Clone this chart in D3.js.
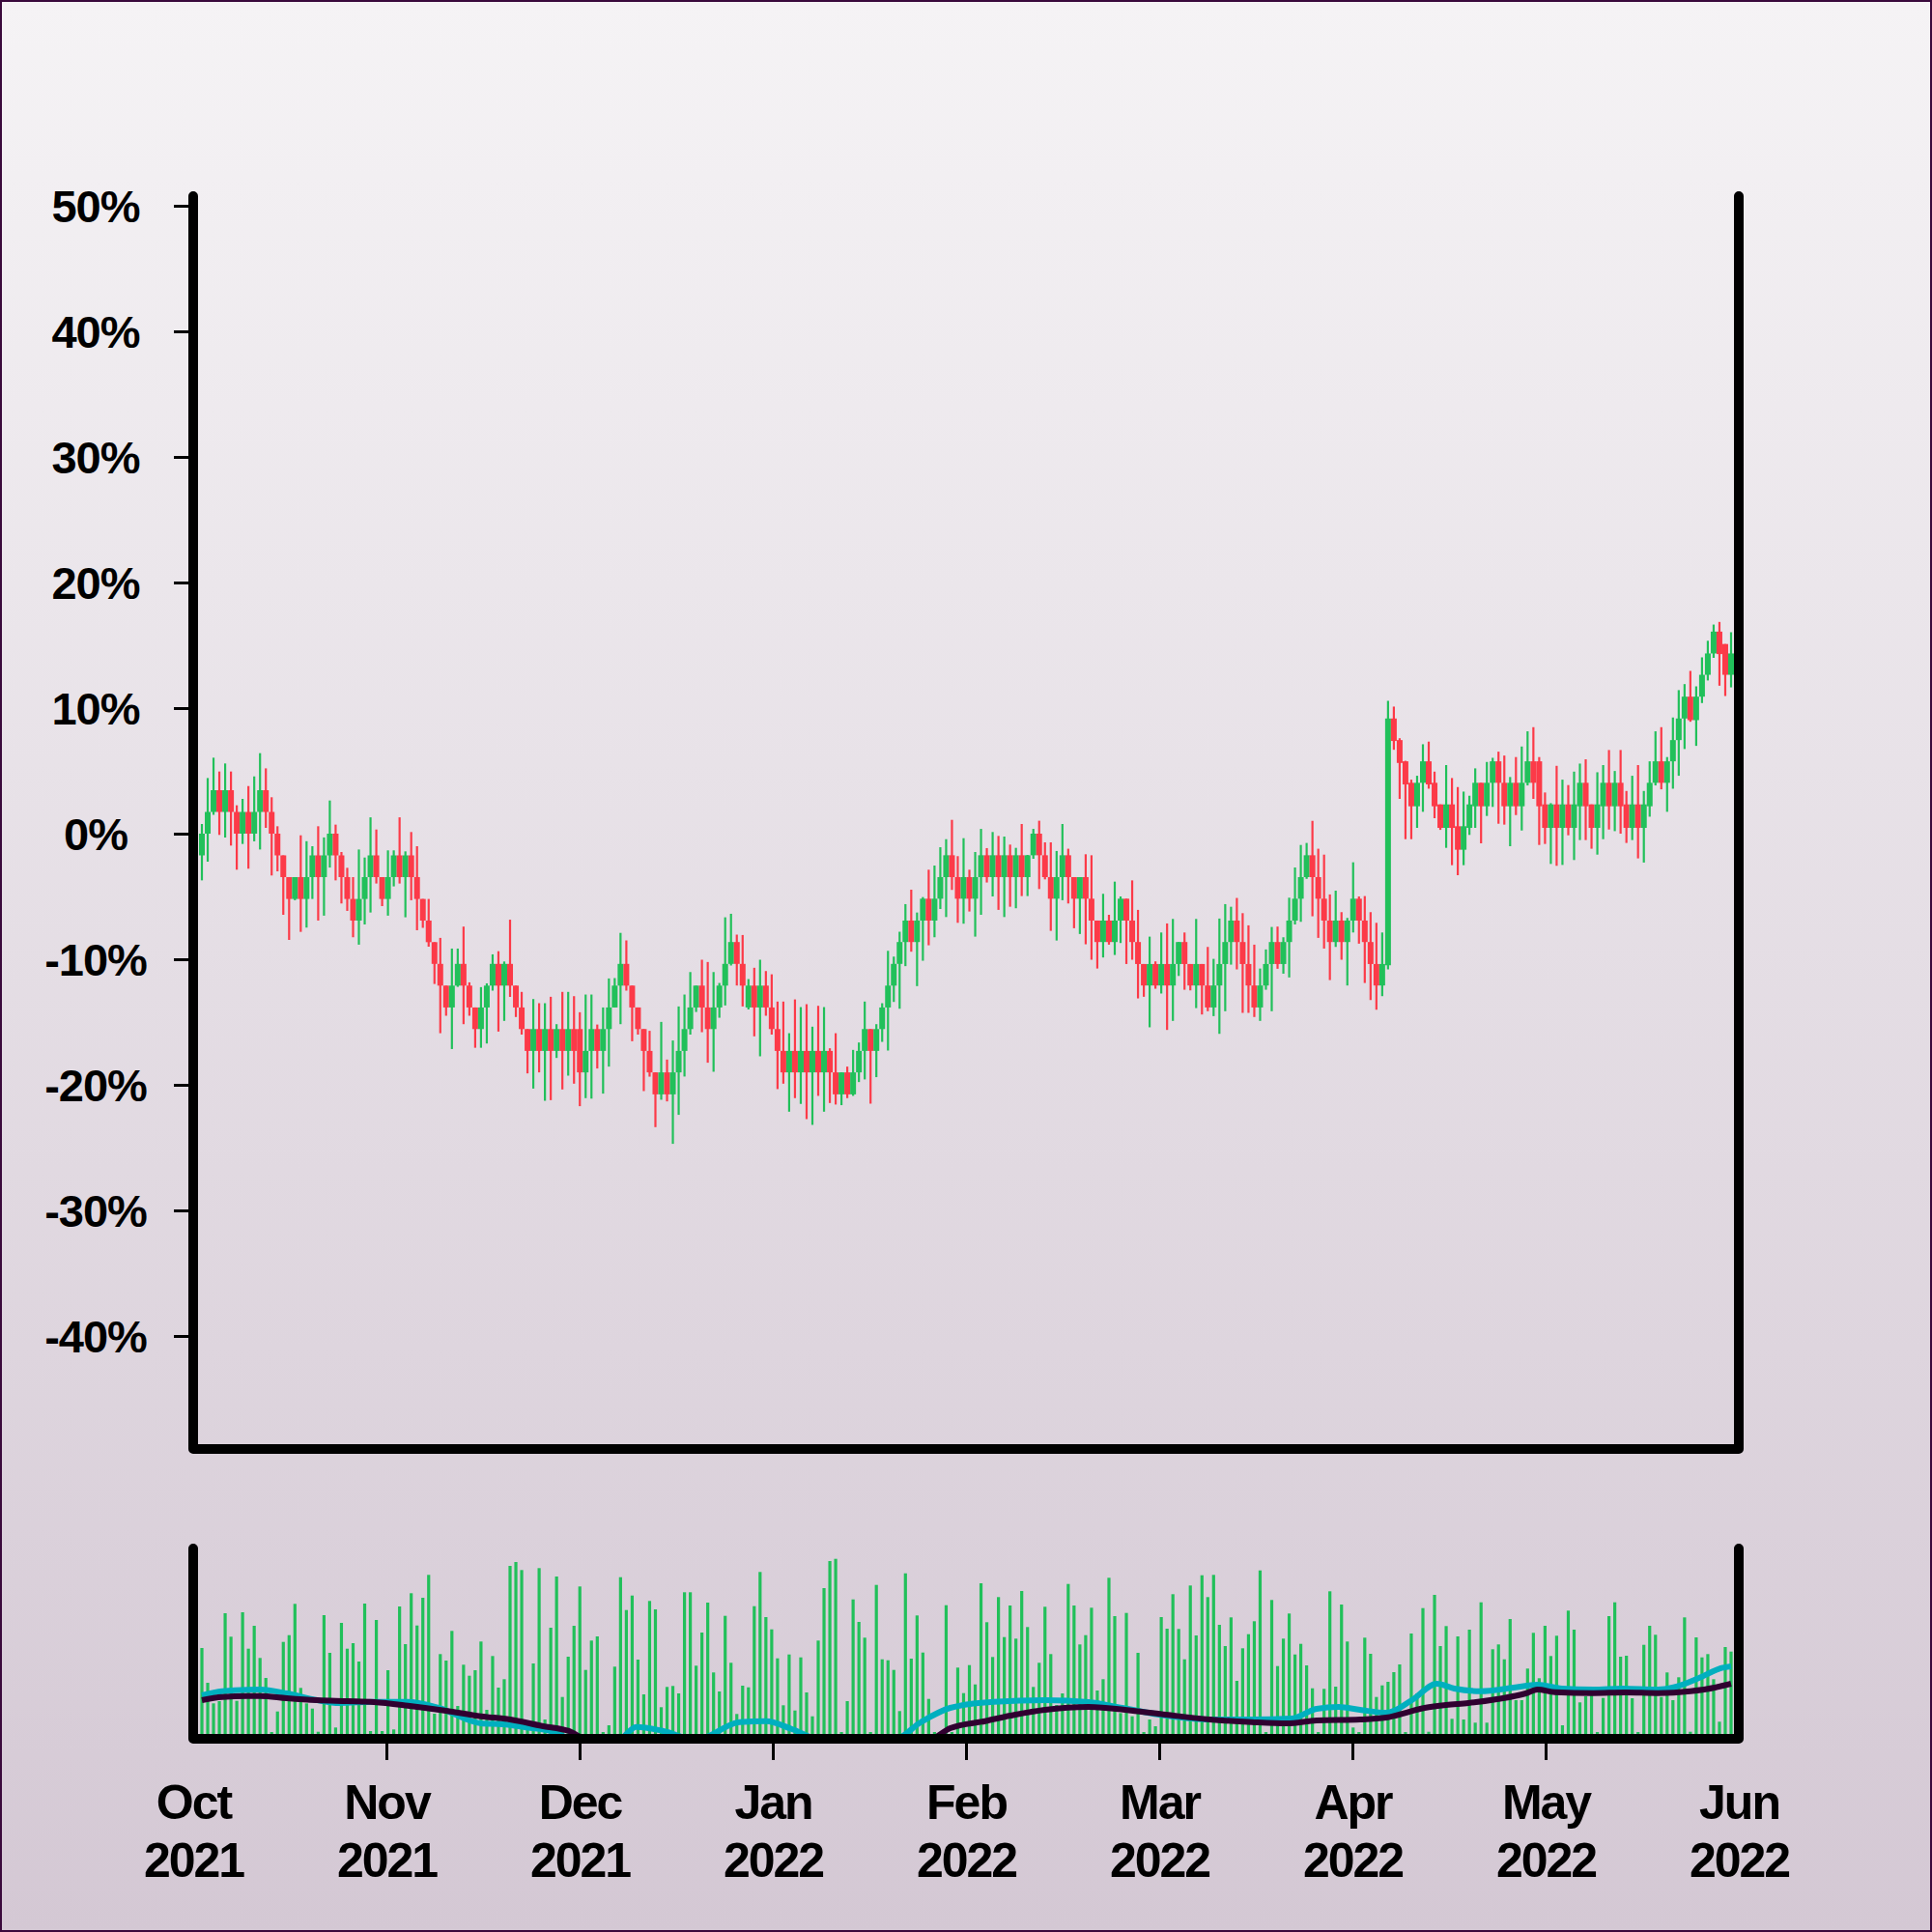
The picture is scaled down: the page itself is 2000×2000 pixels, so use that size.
<!DOCTYPE html>
<html>
<head>
<meta charset="utf-8">
<script src="https://cdn.jsdelivr.net/npm/d3@7"></script>
<style>
html,body{margin:0;padding:0;background:#fff;}
svg{display:block;}
text{font-family:"Liberation Sans",Arial,Helvetica,sans-serif;font-weight:bold;fill:#000;}
</style>
</head>
<body>
<svg id="chart" width="2000" height="2000"></svg>
<script>
// ---------- DATA ----------
const months = ["Oct 2021","Nov 2021","Dec 2021","Jan 2022","Feb 2022","Mar 2022","Apr 2022","May 2022","Jun 2022"];
const yTicks = [-40,-30,-20,-10,0,10,20,30,40,50];

// candle open / close / high / low in % change
const open = [
-1.73,0,1.73,3.46,1.73,3.46,1.73,0,1.73,0,1.73,3.46,1.73,0,-1.73,-3.46,-5.2,-3.46,-5.2,-3.46,
-1.73,-3.46,-1.73,0,-1.73,-3.46,-5.2,-6.92,-5.2,-3.46,-1.73,-3.46,-5.2,-3.46,-1.73,-3.46,-1.73,-3.46,-5.2,-6.92,
-8.64,-10.37,-12.1,-13.84,-12.1,-10.37,-12.1,-13.84,-15.56,-13.84,-12.1,-10.37,-12.1,-10.37,-12.1,-13.84,-15.56,-17.3,-15.56,-17.3,
-15.56,-17.3,-15.56,-17.3,-15.56,-15.56,-19.01,-17.3,-15.56,-17.3,-15.56,-13.84,-12.1,-10.37,-12.1,-13.84,-15.56,-17.3,-19.01,-20.76,
-19.01,-20.76,-19.01,-17.3,-15.56,-13.84,-12.1,-13.84,-15.56,-13.84,-12.1,-10.37,-8.63,-10.37,-13.84,-12.1,-13.84,-12.1,-13.84,-15.56,
-17.3,-19.01,-17.3,-19.01,-17.3,-19.01,-17.3,-19.01,-17.3,-19.01,-20.76,-19.01,-20.76,-19.01,-17.3,-15.56,-17.3,-15.56,-13.84,-12.1,
-10.37,-8.63,-6.92,-8.63,-6.92,-5.18,-6.92,-5.18,-3.46,-1.72,-3.46,-5.18,-3.46,-5.18,-3.46,-1.72,-3.46,-1.72,-3.46,-1.72,
-3.46,-1.72,-3.46,-1.72,0,-1.72,-3.46,-5.18,-3.46,-1.72,-3.46,-5.18,-3.46,-5.18,-6.92,-8.63,-6.92,-8.63,-6.92,-5.18,
-6.92,-8.63,-10.38,-12.09,-10.38,-12.09,-10.38,-12.09,-10.38,-8.63,-10.38,-12.09,-10.38,-12.09,-13.84,-12.09,-10.38,-8.63,-6.92,-8.63,
-10.38,-12.09,-13.84,-12.09,-10.38,-8.63,-10.38,-8.63,-6.92,-5.18,-3.46,-1.72,-3.46,-5.18,-6.92,-8.63,-6.92,-8.63,-6.92,-5.18,
-6.92,-8.63,-10.38,-12.09,-10.48,9.17,7.45,5.76,4.05,2.18,4.05,5.76,4.05,2.33,0.46,2.33,0.59,-1.28,0.46,2.18,
4.05,2.18,4.05,5.76,4.05,2.18,4.05,2.18,4.05,5.76,5.76,2.33,0.46,2.33,0.46,2.33,0.46,2.18,4.05,2.33,
0.46,2.18,4.05,2.18,4.05,2.33,0.46,2.33,0.46,2.18,4.05,5.76,4.05,5.76,7.45,9.17,10.91,9.04,10.91,12.65,
14.35,16.09,15.1,12.65];
const close = [
0,1.73,3.46,1.73,3.46,1.73,0,1.73,0,1.73,3.46,1.73,0,-1.73,-3.46,-5.2,-3.46,-5.2,-3.46,-1.73,
-3.46,-1.73,0,-1.73,-3.46,-5.2,-6.92,-5.2,-3.46,-1.73,-3.46,-5.2,-3.46,-1.73,-3.46,-1.73,-3.46,-5.2,-6.92,-8.64,
-10.37,-12.1,-13.84,-12.1,-10.37,-12.1,-13.84,-15.56,-13.84,-12.1,-10.37,-12.1,-10.37,-12.1,-13.84,-15.56,-17.3,-15.56,-17.3,-15.56,
-17.3,-15.56,-17.3,-15.56,-17.3,-19.01,-17.3,-15.56,-17.3,-15.56,-13.84,-12.1,-10.37,-12.1,-13.84,-15.56,-17.3,-19.01,-20.76,-19.01,
-20.76,-19.01,-17.3,-15.56,-13.84,-12.1,-13.84,-15.56,-13.84,-12.1,-10.37,-8.63,-10.37,-12.1,-12.1,-13.84,-12.1,-13.84,-15.56,-17.3,
-19.01,-17.3,-19.01,-17.3,-19.01,-17.3,-19.01,-17.3,-19.01,-20.76,-19.01,-20.76,-19.01,-17.3,-15.56,-17.3,-15.56,-13.84,-12.1,-10.37,
-8.63,-6.92,-8.63,-6.92,-5.18,-6.92,-5.18,-3.46,-1.72,-3.46,-5.18,-3.46,-5.18,-3.46,-1.72,-3.46,-1.72,-3.46,-1.72,-3.46,
-1.72,-3.46,-1.72,0,-1.72,-3.46,-5.18,-3.46,-1.72,-3.46,-5.18,-3.46,-5.18,-6.92,-8.63,-6.92,-8.63,-6.92,-5.18,-6.92,
-8.63,-10.38,-12.09,-10.38,-12.09,-10.38,-12.09,-10.38,-8.63,-10.38,-12.09,-10.38,-12.09,-13.84,-12.09,-10.38,-8.63,-6.92,-8.63,-10.38,
-12.09,-13.84,-12.09,-10.38,-8.63,-10.38,-8.63,-6.92,-5.18,-3.46,-1.72,-3.46,-5.18,-6.92,-8.63,-6.92,-8.63,-6.92,-5.18,-6.92,
-8.63,-10.38,-12.09,-10.38,9.17,7.38,5.63,3.92,2.18,4.05,5.76,3.92,2.18,0.46,2.33,0.46,-1.28,0.59,2.33,4.05,
2.18,4.05,5.76,4.05,2.18,4.05,2.18,4.05,5.76,4.05,2.18,0.46,2.33,0.46,2.33,0.46,2.33,4.05,2.18,0.46,
2.33,4.05,2.18,4.05,2.18,0.46,2.33,0.46,2.33,4.05,5.76,4.05,5.76,7.45,9.17,10.91,9.04,10.91,12.65,14.35,
16.09,14.3,12.65,14.35];
const high = [
0.77,4.43,6.05,4.95,5.59,4.95,2.26,2.77,3.79,4.56,6.41,5.2,2.9,0.59,-1.73,-3.46,-3.46,-0.13,-0.6,-1.0,
0.59,-0.3,2.64,0.72,-1.46,-2.72,-3.46,-1.26,-1.9,1.3,0.33,-3.46,-1.33,-1.33,1.3,-1.41,0.13,-1.0,-5.2,-5.2,
-8.64,-8.3,-12.1,-9.15,-9.15,-7.4,-11.84,-13.84,-12.22,-11.92,-9.61,-9.36,-10.18,-6.85,-12.1,-12.6,-15.56,-13.17,-13.5,-13.5,
-12.99,-15.17,-12.6,-12.6,-12.94,-14.22,-12.81,-12.81,-15.2,-13.84,-11.53,-11.5,-7.9,-8.5,-12.1,-13.84,-15.56,-15.7,-19.01,-14.99,
-17.99,-16.47,-13.76,-12.81,-11.02,-12.1,-10.04,-10.22,-11.02,-11.89,-6.66,-6.38,-8.04,-8.07,-11.58,-10.68,-10.04,-10.94,-11.2,-13.37,
-13.37,-15.89,-13.2,-13.81,-13.58,-15.37,-13.71,-13.81,-17.09,-15.89,-19.01,-18.55,-17.22,-16.63,-13.37,-15.56,-15.17,-13.5,-9.33,-9.79,
-7.81,-5.61,-4.46,-6.28,-5.05,-2.87,-2.54,-1.08,-0.44,1.1,-1.79,-0.36,-2.87,-1.46,0.38,-1.15,0.13,-0.18,-0.23,-0.87,
-1.13,0.77,-1.69,0.38,1.03,-0.69,-0.69,-1.38,0.77,-1.2,-3.46,-3.46,-1.64,-1.72,-6.92,-4.79,-6.46,-3.82,-5.0,-5.18,
-3.72,-6.07,-10.38,-8.2,-10.17,-7.87,-7.15,-6.79,-8.63,-7.87,-10.38,-6.79,-10.38,-9.02,-9.97,-6.76,-5.61,-5.82,-5.12,-6.33,
-7.3,-8.84,-10.74,-9.22,-7.43,-7.4,-8.25,-5.1,-2.69,-0.9,-0.74,1.02,-1.2,-1.67,-4.84,-4.54,-6.25,-6.71,-2.28,-5.0,
-4.97,-6.25,-7.1,-7.87,10.58,10.12,7.6,5.8,4.3,4.61,7.12,7.33,4.94,2.33,5.46,4.43,3.71,3.35,3.02,5.2,
4.05,5.71,6.04,6.53,6.22,4.51,6.1,6.94,8.15,8.48,6.1,3.28,2.43,5.4,4.3,3.87,4.94,5.58,5.92,2.33,
4.89,5.46,6.66,4.99,6.66,3.4,4.61,5.46,3.4,5.76,8.15,8.48,6.1,9.25,11.43,11.91,12.96,11.73,14.04,15.36,
16.65,16.86,15.1,16.04];
const low = [
-3.72,-2.23,1.5,-0.1,-0.31,-0.95,-2.87,-0.82,-2.79,-0.61,-1.26,0.46,-3.33,-3.0,-6.46,-8.46,-5.3,-7.82,-7.48,-5.2,
-6.92,-6.53,-2.7,-3.72,-5.56,-6.15,-8.25,-8.84,-7.23,-6.28,-3.97,-5.77,-6.53,-4.2,-3.97,-6.66,-5.3,-7.69,-7.5,-9.0,
-11.97,-15.89,-14.5,-17.15,-12.2,-15.17,-14.5,-17.05,-17.05,-16.71,-12.5,-15.76,-14.91,-13.0,-14.6,-16.0,-19.09,-20.3,-19.01,-21.27,
-21.22,-17.86,-20.37,-19.27,-19.91,-21.7,-21.06,-21.1,-18.7,-20.7,-18.55,-13.84,-15.17,-12.5,-16.53,-16.0,-20.5,-19.35,-23.37,-21.19,
-21.32,-24.7,-22.39,-19.34,-16.0,-14.2,-15.81,-18.24,-18.96,-14.66,-13.68,-10.5,-12.09,-13.76,-14.0,-16.14,-17.73,-14.5,-16.0,-20.34,
-19.91,-22.14,-21.06,-21.52,-22.73,-23.19,-20.88,-22.14,-21.45,-21.57,-21.62,-21.06,-20.88,-19.78,-19.57,-21.5,-19.39,-16.58,-17.27,-13.4,
-13.94,-10.55,-9.4,-12.14,-10.12,-8.89,-8.25,-6.0,-6.64,-4.48,-7.1,-7.17,-6.2,-8.2,-6.46,-3.89,-5.0,-6.07,-6.64,-5.82,
-5.94,-4.97,-4.97,-2.0,-4.41,-3.64,-7.74,-8.51,-5.3,-5.56,-7.53,-7.99,-8.81,-10.04,-10.74,-9.86,-8.84,-9.66,-8.71,-10.38,
-10.04,-13.12,-12.99,-15.42,-12.35,-12.73,-15.63,-14.91,-11.33,-12.43,-12.48,-13.89,-14.4,-14.14,-14.53,-15.94,-14.14,-10.43,-10.81,-14.27,
-14.27,-14.6,-14.91,-12.43,-14.14,-10.76,-11.15,-11.45,-7.23,-7.02,-3.6,-6.58,-8.3,-9.15,-11.66,-9.02,-10.04,-12.09,-7.87,-8.76,
-11.89,-13.25,-14.02,-12.94,-10.8,6.68,2.77,-0.44,-0.44,0.46,1.74,3.58,1.23,0.3,-1.13,-2.51,-3.31,-2.51,-0.1,0.46,
-0.77,1.41,2.13,0.79,0.72,-1.0,1.48,0.25,3.84,2.77,-0.9,-0.82,-2.41,-2.56,-2.49,-0.13,-2.1,-0.51,-0.51,-1.2,
-1.67,-0.44,0.33,0.2,0.0,-0.74,-0.51,-1.97,-2.3,1.35,3.84,3.53,1.74,3.58,4.61,6.74,8.91,6.99,10.4,12.2,
14.0,11.78,10.96,11.65];

// volume bar heights (arbitrary units)
const volume = [
89,53,31.7,34,125,100.7,34.3,126,88.3,112,78.7,58,2,23.3,95.3,102.3,134.7,47.7,31.7,26.3,
2.3,123,84,6.7,115,88.3,94,75,135,3,118,3,66,4.7,132,93,145.7,112.3,141,164.7,
21,82.7,76,106.7,29,71.7,60.3,66,95.7,25,80.7,48,56.7,174,178,169.7,4,73,171.7,15,
110,163,38.3,80,112,152.7,66.3,96.7,101,2,9,69.7,162.3,128.3,143.3,77,41,137.7,129,27.7,
48.7,49.7,42,146.7,146.7,70.7,105,136,63.7,44,122.3,73.7,20.7,50,48.3,132.3,167.7,121,108.3,78.3,
29.7,82.3,24.3,79.3,43,18.3,96.7,151,179,181.3,2,34,139.3,116,99.7,2,154.3,77.3,76.3,66.3,
23.7,166.3,78,122.7,84.3,36.3,2,2,133.3,2,68.7,42.3,71.3,51.3,156,115.7,79.7,141.7,100.3,133,
98.7,148,110.7,48.7,73.7,131.7,82.7,30,42,155.3,133,92.7,102.3,130.7,45,56.7,161.7,122,21.7,125.3,
18.3,84,2,15,8,121,109,144.7,108.7,77.3,153.7,102,164.3,141.7,164.7,113,91,120.7,55,88.7,
103.3,116.7,169.3,2,138.7,70.3,98.7,124.7,82.3,93.3,71,47.3,2,46.7,147.7,49,134,95.7,6.7,2,
99.7,83,38.3,50.3,54,64,72,2,104,42,130.3,2.3,144,91,111.7,15.7,101,15,108,11.7,
136.3,11.7,87.7,92.7,77.3,119,35,35,67.7,104.7,57.7,112,80.7,101.7,9,127.7,108,32.7,39,47.7,
2,37.3,122,136.3,80,81,37,2,92.3,112,102.7,38.3,63.7,35,58.7,120.7,2.3,100,79.3,82.7,
56.7,12.7,90,85.3];

// two average lines drawn in the volume panel, sampled at bar index
const fastIdx = [0,3.5,10,14.6,19.8,23.6,29.6,35.4,40.7,48,51.7,55.5,60.6,64,71.6,74.7,79.2,85,92.5,97,101.5,106.5,119,123.6,128.7,136.2,145,152.5,158.3,165.8,173.3,180.6,187.4,191.7,195.5,199.2,203.7,208.1,212.4,215.4,219.9,225.6,229.7,233.9,239.3,244.3,250.4,253.1,257.6,261.4,263];
const fastVal = [40,44.3,46,42,35,32,33.3,33.3,27,11,10,7,2,-6,-6,7.3,3.3,-6,12.3,13.3,5,-6,-6,12,27,33.3,35,33,27,19,15,15,16,26,28,25,22,35,52,47,44.3,48,51,47,46,47,46,48.3,58.3,68.3,70];
const slowIdx = [0,3.5,10,14.6,19.8,25,29.6,35.4,42,48,53,58.5,63,66.6,125,128.7,134.7,139.9,145,152.5,159.8,165.8,173.3,180.6,186.6,191.7,199.2,203.7,210.3,214,217.8,222.7,227.7,229.7,232.7,239.3,244.8,250.4,256,260.4,263];
const slowVal = [35,38.3,39.3,37,35,34,33,29.3,24,18.3,15,8.3,3.3,-6,-6,6,13.3,20,25,28,24.3,20,15,12.3,11,14,15,17,27,30,32,36,42,46,43.3,42.3,43,42.3,44.3,48.3,52];

// ---------- DRAWING ----------
const svg = d3.select("#chart");
const defs = svg.append("defs");
const grad = defs.append("linearGradient").attr("id","bg").attr("x1",0).attr("y1",0).attr("x2",0).attr("y2",1);
grad.append("stop").attr("offset","0%").attr("stop-color","#f5f3f5");
grad.append("stop").attr("offset","100%").attr("stop-color","#d4c8d4");
svg.append("rect").attr("x",0).attr("y",0).attr("width",2000).attr("height",2000).attr("fill","url(#bg)");
svg.append("rect").attr("x",1).attr("y",1).attr("width",1998).attr("height",1998)
   .attr("fill","none").attr("stroke","#3a0a3c").attr("stroke-width",2);

const N = close.length;
const x = d3.scaleLinear().domain([0, N-1]).range([209, 1792]);
const y = d3.scaleLinear().domain([-49, 51]).range([1500, 200]);
const yv = d3.scaleLinear().domain([0, 195]).range([1795, 1600]);
const xm = d3.scalePoint().domain(months).range([200, 1800]);

const GREEN = "#21c05a", RED = "#fc3a48";
const candles = d3.range(N).map(i => ({i, o:open[i], c:close[i], h:high[i], l:low[i]}));

// candles
const gC = svg.append("g");
gC.selectAll("line.wick").data(candles).join("line")
  .attr("x1", d => x(d.i)).attr("x2", d => x(d.i))
  .attr("y1", d => y(d.h)).attr("y2", d => y(d.l))
  .attr("stroke", d => d.c >= d.o ? GREEN : RED).attr("stroke-width", 2.2);
gC.selectAll("rect.body").data(candles).join("rect")
  .attr("x", d => x(d.i) - 3).attr("width", 6)
  .attr("y", d => y(Math.max(d.o, d.c)))
  .attr("height", d => Math.max(1, Math.abs(y(d.o) - y(d.c))))
  .attr("fill", d => d.c >= d.o ? GREEN : RED);

// volume bars
svg.append("g").selectAll("rect").data(volume).join("rect")
  .attr("x", (d,i) => x(i) - 1.6).attr("width", 3.2)
  .attr("y", d => yv(d)).attr("height", d => yv(0) - yv(d))
  .attr("fill", GREEN);

// average lines
const line = d3.line().x(d => x(d[0])).y(d => yv(d[1])).curve(d3.curveMonotoneX);
svg.append("path").datum(fastIdx.map((v,k) => [v, fastVal[k]]))
  .attr("d", line).attr("fill","none").attr("stroke","#00afbf").attr("stroke-width",6)
  .attr("stroke-linejoin","round");
svg.append("path").datum(slowIdx.map((v,k) => [v, slowVal[k]]))
  .attr("d", line).attr("fill","none").attr("stroke","#300030").attr("stroke-width",6)
  .attr("stroke-linejoin","round");

// y axis (main panel)
const ya = svg.append("g").attr("transform","translate(200,0)")
  .call(d3.axisLeft(y).tickValues(yTicks).tickSize(20).tickFormat(d => d + "%"));
ya.select(".domain").remove();
ya.selectAll(".tick line").attr("stroke","#000").attr("stroke-width",3);
ya.selectAll(".tick text").attr("x",-101).attr("dy","0.36em")
  .attr("text-anchor","middle").style("font-size","47px").style("font-weight","bold")
  .style("letter-spacing","-1px")
  .style("font-family",'"Liberation Sans",Arial,sans-serif').attr("fill","#000");

// x axis (bottom of volume panel)
const xa = svg.append("g").attr("transform","translate(0,1800)")
  .call(d3.axisBottom(xm).tickSize(22).tickFormat(""));
xa.select(".domain").remove();
xa.selectAll(".tick line").attr("stroke","#000").attr("stroke-width",3)
  .attr("opacity", (d,i) => (i === 0 || i === months.length - 1) ? 0 : 1);
xa.selectAll(".tick").each(function(d){
  const parts = d.split(" ");
  const t = d3.select(this).append("text").attr("text-anchor","middle")
    .style("font-size","50px").style("letter-spacing","-2px").attr("fill","#000");
  t.append("tspan").attr("x",0).attr("y",83).text(parts[0]);
  t.append("tspan").attr("x",0).attr("y",143).text(parts[1]);
});

// frames
svg.append("path").attr("d","M200,203 V1500 H1800 V203")
  .attr("fill","none").attr("stroke","#000").attr("stroke-width",10)
  .attr("stroke-linecap","round").attr("stroke-linejoin","round");
svg.append("path").attr("d","M200,1603 V1800 H1800 V1603")
  .attr("fill","none").attr("stroke","#000").attr("stroke-width",10)
  .attr("stroke-linecap","round").attr("stroke-linejoin","round");
</script>
</body>
</html>
